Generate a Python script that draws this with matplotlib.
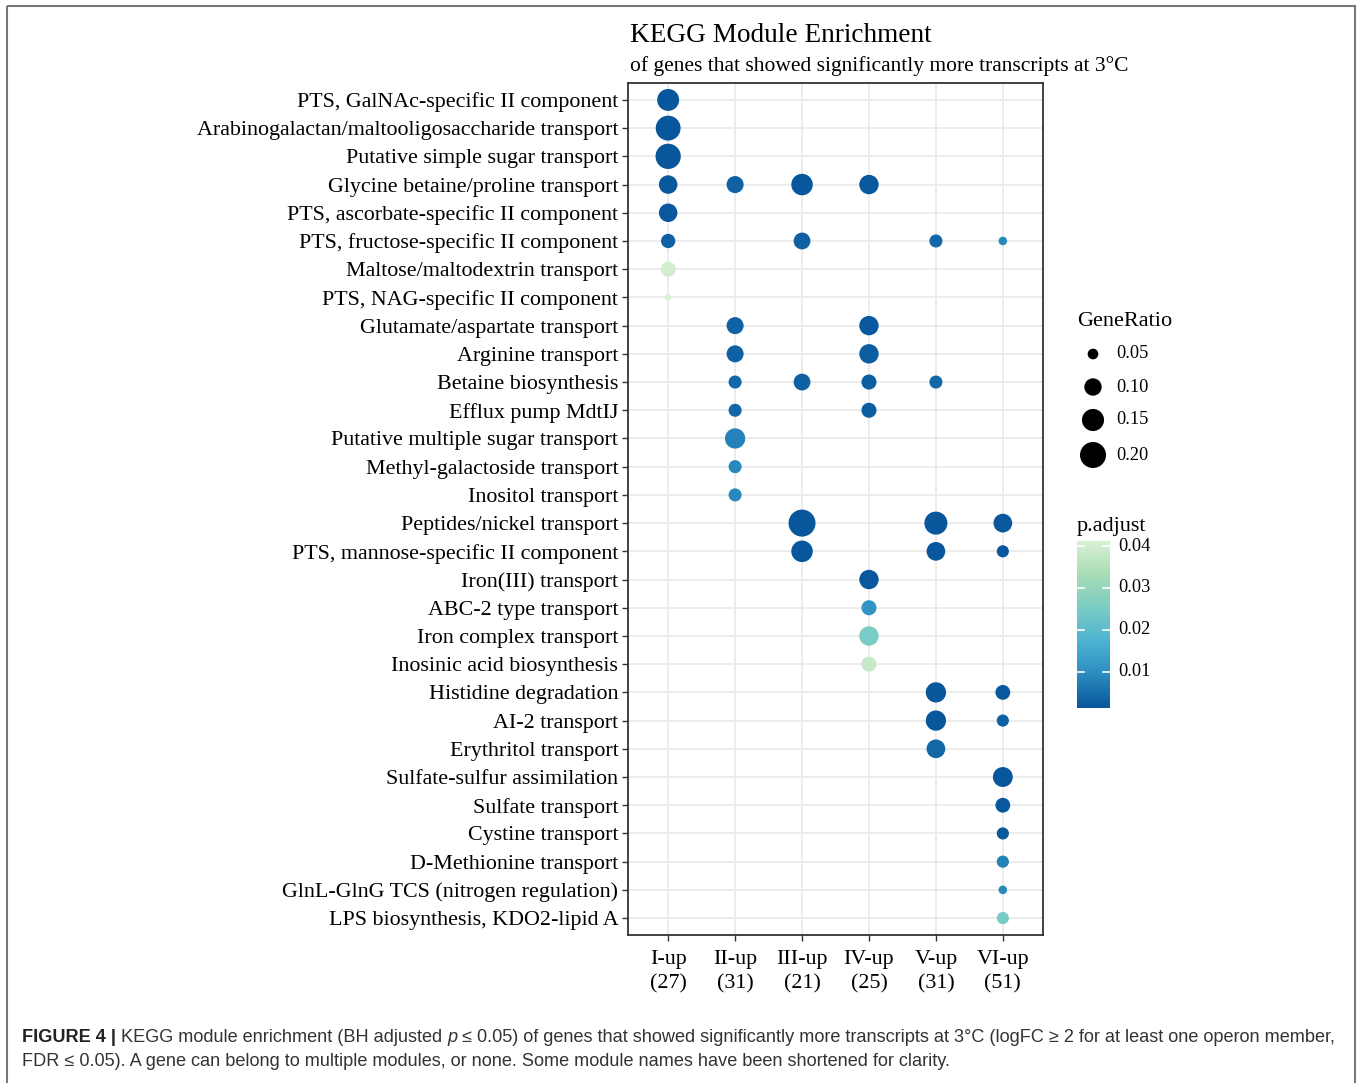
"""
KEGG module enrichment dot plot (GeneRatio as size, p.adjust as colour)
"""
import numpy as np
import matplotlib
matplotlib.use("Agg")
import matplotlib.pyplot as plt
from matplotlib.colors import LinearSegmentedColormap, Normalize
from matplotlib.patches import Rectangle

W, H = 1357, 1083
DPI = 100

modules = [
    "PTS, GalNAc-specific II component",
    "Arabinogalactan/maltooligosaccharide transport",
    "Putative simple sugar transport",
    "Glycine betaine/proline transport",
    "PTS, ascorbate-specific II component",
    "PTS, fructose-specific II component",
    "Maltose/maltodextrin transport",
    "PTS, NAG-specific II component",
    "Glutamate/aspartate transport",
    "Arginine transport",
    "Betaine biosynthesis",
    "Efflux pump MdtIJ",
    "Putative multiple sugar transport",
    "Methyl-galactoside transport",
    "Inositol transport",
    "Peptides/nickel transport",
    "PTS, mannose-specific II component",
    "Iron(III) transport",
    "ABC-2 type transport",
    "Iron complex transport",
    "Inosinic acid biosynthesis",
    "Histidine degradation",
    "AI-2 transport",
    "Erythritol transport",
    "Sulfate-sulfur assimilation",
    "Sulfate transport",
    "Cystine transport",
    "D-Methionine transport",
    "GlnL-GlnG TCS (nitrogen regulation)",
    "LPS biosynthesis, KDO2-lipid A",
]

groups = ["I-up\n(27)", "II-up\n(31)", "III-up\n(21)", "IV-up\n(25)", "V-up\n(31)", "VI-up\n(51)"]

# one entry per dot: module row, group column, GeneRatio, p.adjust
pt_module = [0, 1, 2, 3, 4, 5, 6, 7,
             3, 8, 9, 10, 11, 12, 13, 14,
             3, 5, 10, 15, 16,
             3, 8, 9, 10, 11, 17, 18, 19, 20,
             5, 10, 15, 16, 21, 22, 23,
             5, 15, 16, 21, 22, 24, 25, 26, 27, 28, 29]
pt_group = [0] * 8 + [1] * 8 + [2] * 5 + [3] * 9 + [4] * 7 + [5] * 11
gene_ratio = [0.148, 0.185, 0.190, 0.111, 0.111, 0.074, 0.080, 0.031,
              0.097, 0.097, 0.097, 0.065, 0.065, 0.129, 0.065, 0.065,
              0.143, 0.095, 0.095, 0.214, 0.143,
              0.120, 0.120, 0.120, 0.080, 0.080, 0.120, 0.080, 0.120, 0.080,
              0.065, 0.065, 0.161, 0.113, 0.129, 0.129, 0.113,
              0.039, 0.113, 0.059, 0.078, 0.059, 0.125, 0.078, 0.059, 0.059, 0.039, 0.059]
p_adjust = [0.0015, 0.0014, 0.0014, 0.0016, 0.0016, 0.0030, 0.0400, 0.0412,
            0.0030, 0.0030, 0.0030, 0.0040, 0.0040, 0.0080, 0.0090, 0.0090,
            0.0014, 0.0030, 0.0030, 0.0014, 0.0014,
            0.0018, 0.0018, 0.0025, 0.0025, 0.0025, 0.0018, 0.0110, 0.0250, 0.0380,
            0.0040, 0.0040, 0.0014, 0.0016, 0.0014, 0.0014, 0.0040,
            0.0090, 0.0016, 0.0016, 0.0016, 0.0030, 0.0014, 0.0016, 0.0016, 0.0080, 0.0090, 0.0250]

size_breaks = [0.05, 0.10, 0.15, 0.20]
p_breaks = [0.01, 0.02, 0.03, 0.04]

SERIF = ["Liberation Serif", "DejaVu Serif"]
SANS = ["Liberation Sans", "DejaVu Sans"]
plt.rcParams["font.family"] = SERIF

cmap = LinearSegmentedColormap.from_list(
    "padj", ["#08569c", "#2b8cbe", "#4eb3d3", "#7bccc4", "#a8ddb5", "#daf0d4"])
norm = Normalize(vmin=min(p_adjust), vmax=max(p_adjust))


def dot_size(v):
    # area grows linearly with GeneRatio (diameter in px -> points^2)
    d2 = np.clip(3747 * np.asarray(v) - 73, 20, None)
    return d2 * (72 / DPI) ** 2


def px_box(x0, y0, x1, y1):
    return [x0 / W, 1 - y1 / H, (x1 - x0) / W, (y1 - y0) / H]


fig = plt.figure(figsize=(W / DPI, H / DPI), dpi=DPI)

# main dot plot
ax = fig.add_axes(px_box(628, 83, 1043, 935))
ax.scatter(np.array(pt_group) + 1, np.array(pt_module) + 1,
           s=dot_size(gene_ratio), c=p_adjust, cmap=cmap, norm=norm,
           linewidths=0, zorder=3)
ax.set_xlim(0.4, 6.6)
ax.set_ylim(30.6, 0.4)
ax.set_xticks(range(1, 7))
ax.set_xticklabels(groups, fontsize=15.8, linespacing=1.33)
ax.set_yticks(range(1, 31))
ax.set_yticklabels(modules, fontsize=15.8)
ax.grid(True, color="#ebebeb", lw=1.3, zorder=0)
ax.set_axisbelow(True)
ax.tick_params(length=4, width=1, color="#333333", labelcolor="black", pad=3)
ax.tick_params(axis="x", pad=7)
for sp in ax.spines.values():
    sp.set_color("#333333")
    sp.set_linewidth(1.3)

# overlay in pixel coordinates for titles, legend and caption
ov = fig.add_axes([0, 0, 1, 1])
ov.set_xlim(0, W)
ov.set_ylim(H, 0)
ov.axis("off")
ov.patch.set_alpha(0)

ov.text(630, 35, "KEGG Module Enrichment", fontsize=19.6, va="center", ha="left")
ov.text(630, 66, "of genes that showed significantly more transcripts at 3\u00b0C",
        fontsize=15.5, va="center", ha="left")

# GeneRatio legend
ov.text(1077, 322, "GeneRatio", fontsize=16, va="center", ha="left")
leg_y = [354, 387, 420, 455]
ov.scatter([1093] * 4, leg_y, s=dot_size(size_breaks), c="black", linewidths=0)
for yy, b in zip(leg_y, size_breaks):
    ov.text(1116, yy, f"{b:.2f}", fontsize=13.2, va="center", ha="left")

# p.adjust colour bar
ov.text(1077, 527, "p.adjust", fontsize=16, va="center", ha="left")
cax = fig.add_axes(px_box(1077, 541, 1110, 708))
grad = np.linspace(norm.vmin, norm.vmax, 300).reshape(-1, 1)
cax.imshow(grad, cmap=cmap, norm=norm, aspect="auto", origin="lower",
           extent=[0, 1, norm.vmin, norm.vmax])
cax.set_xlim(0, 1)
cax.set_ylim(norm.vmin, norm.vmax)
cax.axis("off")
for b in p_breaks:
    cax.plot([0, 0.2], [b, b], color="white", lw=1.2)
    cax.plot([0.8, 1], [b, b], color="white", lw=1.2)
    cax.text(1.25, b, f"{b:.2f}", fontsize=13.2, va="center", ha="left",
             transform=cax.get_yaxis_transform())

# figure frame
ov.add_patch(Rectangle((7, 6), 1348, 1090, fill=False, edgecolor="#777777", lw=1.5))

# caption
fig.canvas.draw()
renderer = fig.canvas.get_renderer()


def run_text(x, y, pieces):
    for txt, kw in pieces:
        style = dict(fontsize=13.1, va="center", ha="left", family=SANS, color="#333333")
        style.update(kw)
        t = ov.text(x, y, txt, **style)
        bb = t.get_window_extent(renderer)
        x += bb.width
    return x


run_text(22, 1037, [
    ("FIGURE 4 |", dict(weight="bold", color="#222222")),
    (" KEGG module enrichment (BH adjusted ", {}),
    ("p", dict(style="italic")),
    (" \u2264 0.05) of genes that showed significantly more transcripts at 3\u00b0C "
     "(logFC \u2265 2 for at least one operon member,", {}),
])
run_text(22, 1062, [
    ("FDR \u2264 0.05). A gene can belong to multiple modules, or none. "
     "Some module names have been shortened for clarity.", {}),
])

fig.savefig("out.png", dpi=DPI)
